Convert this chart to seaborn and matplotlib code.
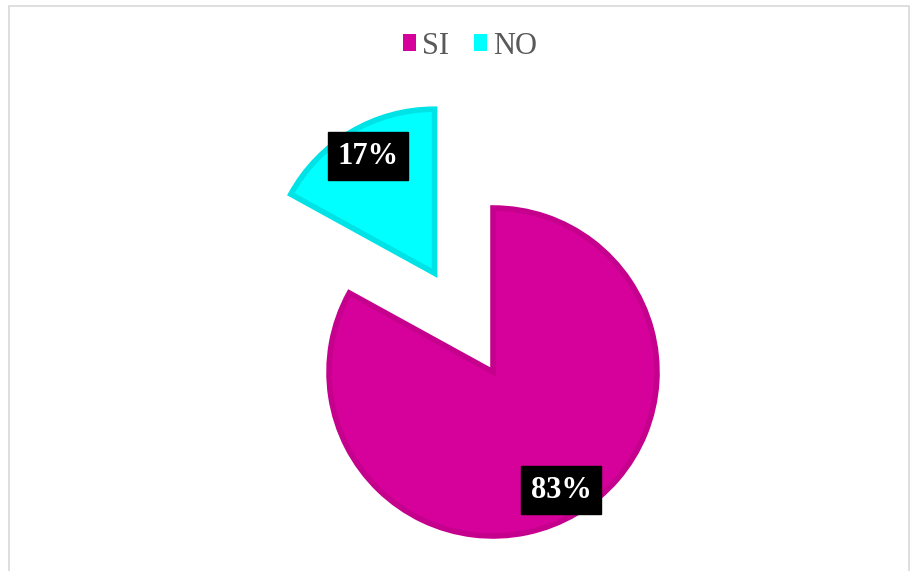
"""Gráfico de pastel SI / NO."""

import matplotlib.pyplot as plt
import seaborn as sns
from matplotlib.patches import Patch

sns.set_theme(style="white")

labels = ["SI", "NO"]
values = [83, 17]
fill_colors = ["#D6009A", "#00FFFF"]
edge_colors = ["#C5008D", "#00E3E6"]
explode_frac = [0.0, 0.70]

W, H = 911, 571
fig = plt.figure(figsize=(W / 100, H / 100), dpi=100)
ax = fig.add_axes([0, 0, 1, 1])

cx, cy, r = 493, H - 372, 164
# en matplotlib el desplazamiento de explode va en unidades de datos
wedges, _ = ax.pie(values, colors=fill_colors, startangle=90, counterclock=False,
                   explode=[e * r for e in explode_frac], center=(cx, cy), radius=r,
                   frame=True, wedgeprops={"linewidth": 4, "joinstyle": "miter"})
for w, ec in zip(wedges, edge_colors):
    w.set_edgecolor(ec)
ax.set_xlim(0, W)
ax.set_ylim(0, H)
ax.set_aspect("equal")
ax.axis("off")

# marco gris del área del gráfico
ax.add_patch(plt.Rectangle((8.5, -5), 900, H - 0.5, fill=False,
                           edgecolor="#D9D9D9", linewidth=1.2))

# etiquetas de porcentaje
label_pos = [(561, H - 490), (368, H - 156)]
for v, (x, y) in zip(values, label_pos):
    ax.text(x, y, f"{v}%", ha="center", va="center", color="white",
            fontsize=22, fontweight="bold", family="Liberation Serif",
            bbox={"boxstyle": "square,pad=0.3", "facecolor": "black", "edgecolor": "black"})

handles = [Patch(facecolor=c, edgecolor="none") for c in fill_colors]
leg = ax.legend(handles, labels, loc="center", bbox_to_anchor=(470 / W, 1 - 46 / H),
                ncol=2, frameon=False, handlelength=0.42, handleheight=0.5,
                handletextpad=0.2, columnspacing=0.8,
                prop={"family": "Liberation Serif", "size": 22})
for t in leg.get_texts():
    t.set_color("#595959")

fig.savefig("out.png", dpi=100)
